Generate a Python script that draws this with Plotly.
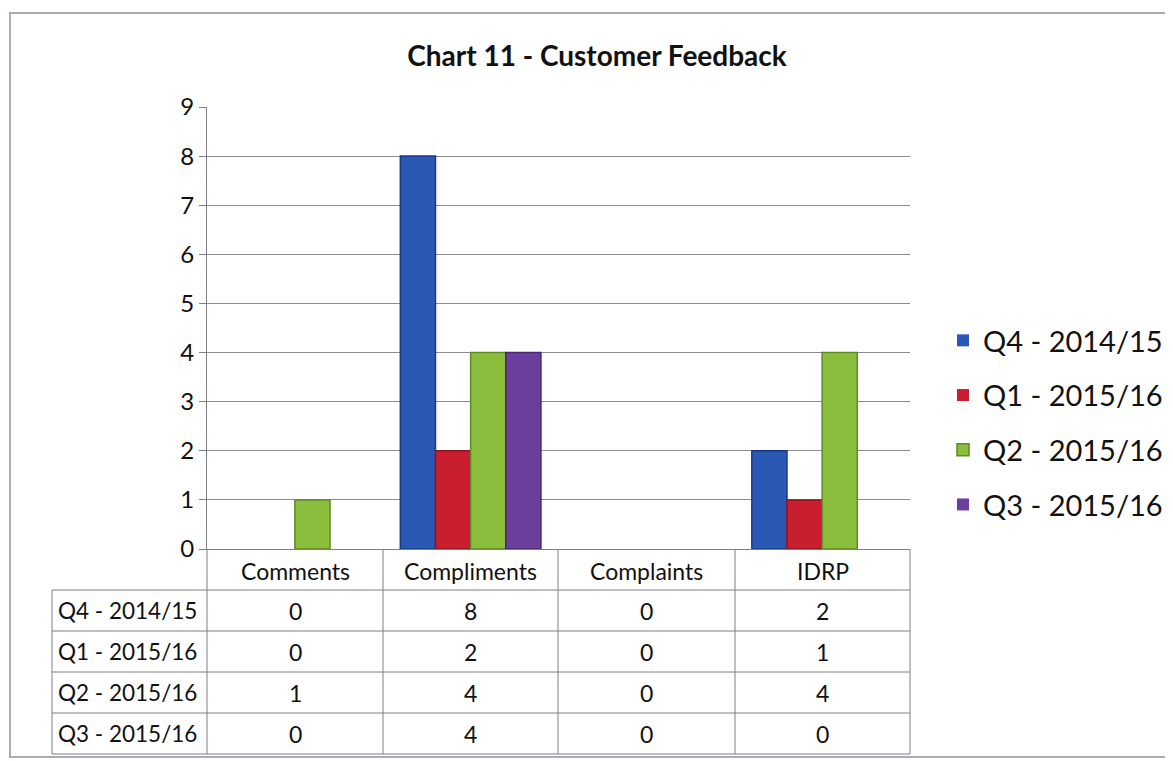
import plotly.graph_objects as go

categories = ["Comments", "Compliments", "Complaints", "IDRP"]
series_names = ["Q4 - 2014/15", "Q1 - 2015/16", "Q2 - 2015/16", "Q3 - 2015/16"]
q4_1415 = [0, 8, 0, 2]
q1_1516 = [0, 2, 0, 1]
q2_1516 = [1, 4, 0, 4]
q3_1516 = [0, 4, 0, 0]
series_values = [q4_1415, q1_1516, q2_1516, q3_1516]
y_ticks = list(range(0, 10))

colors = ["#2B58B4", "#C81E2E", "#8CBE3E", "#6C3F9E"]
edge_colors = ["#18398A", "#8E1420", "#5F8A25", "#48266F"]

OFF = 8  # page body margin
W, H = 1173 - OFF, 761 - OFF
# plot area in reference pixel coordinates
RL, RR, RT, RB = 207, 910, 107, 549
L, R, T, B = RL - OFF, RR - OFF, RT - OFF, RB - OFF
FONT = "Lato, 'Open Sans', Arial, sans-serif"


def px(x):
    return (x - RL) / (RR - RL)


def py(y):
    return (RB - y) / (RB - RT)


fig = go.Figure()
for i, (name, vals) in enumerate(zip(series_names, series_values)):
    fig.add_trace(go.Bar(
        x=categories, y=vals, name=name,
        marker=dict(color=colors[i],
                    line=dict(color=edge_colors[i], width=[1.5 if v > 0 else 0 for v in vals])),
        legendgroup=name,
    ))

shapes = []
line_col = "#7F7F8A"
# outer frame
shapes.append(dict(type="rect", xref="paper", yref="paper",
                   x0=px(10), x1=px(1185), y0=py(757), y1=py(13),
                   line=dict(color="#A9ACB6", width=2), layer="below"))
# table lines
col_edges = [207, 383, 558, 735, 910]
row_edges = [590, 631, 672, 713, 754]
for xe in col_edges:
    shapes.append(dict(type="line", xref="paper", yref="paper",
                       x0=px(xe), x1=px(xe), y0=py(549), y1=py(754),
                       line=dict(color=line_col, width=1)))
shapes.append(dict(type="line", xref="paper", yref="paper",
                   x0=px(52), x1=px(52), y0=py(590), y1=py(754),
                   line=dict(color=line_col, width=1)))
for ye in row_edges:
    shapes.append(dict(type="line", xref="paper", yref="paper",
                       x0=px(52), x1=px(910), y0=py(ye), y1=py(ye),
                       line=dict(color=line_col, width=1)))

annotations = []
centers = [(col_edges[i] + col_edges[i + 1]) / 2 for i in range(4)]
for c, cx in zip(categories, centers):
    annotations.append(dict(text=c, x=px(cx), y=py(571), xref="paper", yref="paper",
                            showarrow=False, font=dict(size=23, color="#111", family=FONT),
                            xanchor="center", yanchor="middle"))
for r, (name, vals) in enumerate(zip(series_names, series_values)):
    yc = row_edges[r] + 20.5
    annotations.append(dict(text=name, x=px(56), y=py(yc), xref="paper", yref="paper",
                            showarrow=False, font=dict(size=22.5, color="#111", family=FONT),
                            xanchor="left", yanchor="middle"))
    for v, cx in zip(vals, centers):
        annotations.append(dict(text=str(v), x=px(cx), y=py(yc), xref="paper", yref="paper",
                                showarrow=False, font=dict(size=23, color="#111", family=FONT),
                                xanchor="center", yanchor="middle"))

fig.update_layout(
    width=W, height=H,
    margin=dict(l=L, r=W - R, t=T, b=H - B, pad=0, autoexpand=False),
    paper_bgcolor="white", plot_bgcolor="white",
    title=dict(text="<b>Chart 11 - Customer Feedback</b>", x=(597 - OFF) / W, xanchor="center",
               y=1 - (56 - OFF) / H, yanchor="middle",
               font=dict(size=28, color="#111", family=FONT)),
    barmode="group", bargap=0.2, bargroupgap=0.0,
    showlegend=True,
    legend=dict(x=px(943), y=py(315), xanchor="left", yanchor="top",
                font=dict(size=29, color="#111", family=FONT),
                traceorder="grouped", tracegroupgap=14, itemwidth=30,
                bgcolor="rgba(0,0,0,0)"),
    shapes=shapes, annotations=annotations,
    font=dict(family=FONT),
)
fig.update_yaxes(range=[0, 9], tickvals=y_ticks, showgrid=True, gridcolor="#8C8C8C", gridwidth=1,
                 showline=True, linecolor=line_col, ticks="outside", ticklen=7, tickcolor=line_col,
                 tickfont=dict(size=24, color="#111", family=FONT), zeroline=False)
fig.update_xaxes(showticklabels=False, showline=True, linecolor=line_col, ticks="")

fig.write_html("out.html")
